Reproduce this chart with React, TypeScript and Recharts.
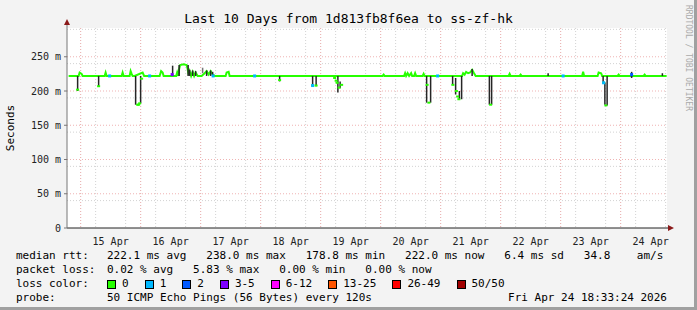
import React from 'react';
import { ComposedChart, Line, Scatter, XAxis, YAxis, CartesianGrid, ReferenceLine } from 'recharts';

// hours since Apr 14 00:00, median rtt in ms (baseline and short rises)
const medianPoints: [number, number][] = [
  [19.2, 222], [22.4, 222], [23.2, 222], [23.6, 227], [24.4, 225], [24.8, 222],
  [30.8, 222], [31.6, 222], [33.6, 222], [34.0, 227], [34.4, 222],
  [40.4, 222], [40.8, 227], [41.2, 222], [43.6, 222], [44.0, 229], [44.4, 225], [44.8, 222],
  [45.6, 222], [48.8, 227], [49.4, 222],
  [55.6, 222], [56.2, 229], [56.8, 227], [57.2, 222], [62.2, 222], [62.6, 227], [63.0, 222],
  [63.4, 232], [63.8, 238], [65.2, 239], [66.4, 238], [66.8, 232], [67.2, 224],
  [67.6, 229], [68.2, 222], [68.8, 228], [69.4, 222], [70.0, 227], [70.8, 222],
  [72.4, 222], [73.6, 226], [74.4, 229], [75.2, 224], [76.0, 229], [76.8, 224], [77.6, 222],
  [82.0, 222], [82.4, 227], [83.2, 228], [83.6, 222],
  [103.2, 222], [104.0, 222], [116.4, 222], [118.6, 222], [124.8, 222], [128.8, 222],
  [144.8, 222], [145.2, 224], [145.6, 222],
  [153.4, 222], [153.8, 226], [154.2, 222], [154.8, 226], [155.4, 222], [156.2, 226], [156.6, 222],
  [157.4, 222], [157.8, 226], [158.2, 222], [160.8, 222], [161.2, 225], [161.6, 222],
  [162.0, 222], [164.6, 222], [171.6, 222], [176.6, 222],
  [177.0, 226], [177.6, 224], [178.2, 228], [179.0, 226], [179.8, 227], [180.6, 231], [181.2, 227], [182.0, 222],
  [186.8, 222], [188.8, 222],
  [195.2, 222], [195.6, 225], [196.0, 222], [199.6, 222], [200.0, 224], [200.4, 222],
  [224.6, 222], [225.0, 228], [225.4, 222], [230.8, 222], [231.2, 227], [232.2, 226],
  [232.6, 222], [235.0, 222],
  [238.8, 222], [239.2, 224], [239.6, 222], [249.2, 222], [249.6, 224], [250.0, 222], [258.4, 222],
];

// median during the drops
const dipPoints: [number, number][] = [
  [22.8, 202], [31.2, 207], [46.8, 180], [47.2, 180], [47.6, 182], [48.4, 218],
  [103.6, 216], [116.8, 208], [118.2, 208],
  [125.6, 219], [126.2, 215], [126.6, 212], [127.4, 205], [128.4, 209],
  [162.6, 209], [163.3, 183],
  [172.9, 209], [174.3, 200], [174.8, 192], [175.3, 188],
  [188.0, 180], [233.2, 212], [234.1, 179],
];

// [hour, low, high] of the ping spread
const smokePoints: [number, number, number][] = [
  [22.8, 200, 222], [31.2, 206, 222], [46.0, 180, 222], [48.0, 182, 222],
  [60.8, 222, 237], [63.4, 222, 238], [67.0, 222, 238],
  [67.6, 222, 231], [68.8, 222, 230], [70.0, 222, 229], [72.8, 226, 234], [74.4, 222, 230],
  [76.0, 222, 230], [76.8, 222, 228], [103.6, 214, 222], [116.8, 207, 222], [118.2, 207, 222],
  [126.9, 198, 222], [127.8, 204, 214],
  [162.4, 183, 222], [164.0, 183, 222],
  [172.8, 209, 222], [174.0, 195, 219], [175.5, 187, 200], [176.4, 188, 222],
  [180.6, 222, 232], [187.5, 180, 222], [188.4, 180, 222], [211.0, 222, 226],
  [233.0, 212, 222], [233.7, 180, 212], [234.6, 179, 222], [244.4, 219, 228], [256.7, 222, 226],
];

// [hour, rtt, loss colour index]
const lossPoints: [number, number, number][] = [
  [35.6, 222, 1], [51.6, 222, 1], [60.6, 224, 3], [77.0, 222, 1], [93.6, 222, 1],
  [116.8, 208, 1], [166.8, 222, 1], [217.0, 222, 1], [233.2, 212, 1], [244.4, 224, 2],
];

const lossColors = ['#26ff00', '#00b8ff', '#0059ff', '#7e00ff', '#ff00ff', '#ff5500', '#ff0000', '#a10000'];
const lossLabels = ['0', '1', '2', '3-5', '6-12', '13-25', '26-49', '50/50'];

const dayLabels = ['15 Apr', '16 Apr', '17 Apr', '18 Apr', '19 Apr', '20 Apr', '21 Apr', '22 Apr', '23 Apr', '24 Apr'];
const dayNoons = [36, 60, 84, 108, 132, 156, 180, 204, 228, 252];
const midnights = [24, 48, 72, 96, 120, 144, 168, 192, 216, 240];
const sixHours = [24, 30, 36, 42, 48, 54, 60, 66, 72, 78, 84, 90, 96, 102, 108, 114, 120, 126, 132, 138, 144, 150, 156, 162, 168, 174, 180, 186, 192, 198, 204, 210, 216, 222, 228, 234, 240, 246, 252, 258];
const yTicks = [0, 50, 100, 150, 200, 250];
const yMinor = [10, 20, 30, 40, 60, 70, 80, 90, 110, 120, 130, 140, 160, 170, 180, 190, 210, 220, 230, 240, 260, 270, 280, 290];

const statLine = '222.1 ms avg   238.0 ms max   178.8 ms min   222.0 ms now   6.4 ms sd   34.8    am/s';
const lossLine = '0.02 % avg   5.83 % max   0.00 % min   0.00 % now';
const probeLine = '50 ICMP Echo Pings (56 Bytes) every 120s';
const stamp = 'Fri Apr 24 18:33:24 2026';

const mono = '"DejaVu Sans Mono", monospace';

const rows = medianPoints.map(([t, med]) => ({ t, med }));
const dipData = dipPoints.map(([t, v]) => ({ t, v }));
const lossData = lossPoints.map(([t, v, level]) => ({ t, v, level }));

const DipMark = (props: any) => <rect x={props.cx - 1.5} y={props.cy - 1} width={3} height={2} fill="#26ff00" />;
const LossMark = (props: any) => (
  <rect x={props.cx - 1.5} y={props.cy - 1.5} width={3} height={3} fill={lossColors[props.payload.level]} />
);

const legendRow = (top: number, label: string, content: React.ReactNode) => (
  <div style={{ position: 'absolute', left: 0, top, width: 690, height: 14, fontSize: 11, lineHeight: '14px', whiteSpace: 'pre' }}>
    <span style={{ position: 'absolute', left: 16 }}>{label}</span>
    <span style={{ position: 'absolute', left: 107 }}>{content}</span>
  </div>
);

export default function App() {
  return (
    <div style={{ position: 'absolute', left: 0, top: 0, width: 697, height: 310, background: '#f3f3f3', boxSizing: 'border-box', borderRight: '3px solid #a0a0a0', borderBottom: '3px solid #a0a0a0', overflow: 'hidden', fontFamily: mono, color: '#000' }}>
      <div style={{ position: 'absolute', left: 0, top: 11, width: 697, textAlign: 'center', fontSize: 13, lineHeight: '16px' }}>
        Last 10 Days from 1d813fb8f6ea to ss-zf-hk
      </div>
      <div style={{ position: 'absolute', left: 10, top: 128, transform: 'translate(-50%, -50%) rotate(-90deg)', fontSize: 11, whiteSpace: 'nowrap' }}>
        Seconds
      </div>
      <div style={{ position: 'absolute', left: 684, top: 5, writingMode: 'vertical-rl', fontSize: 8, color: '#aaa', whiteSpace: 'nowrap' }}>
        RRDTOOL / TOBI OETIKER
      </div>
      <div style={{ position: 'absolute', left: 0, top: 0 }}>
        <ComposedChart width={697} height={310} data={rows} margin={{ top: 28, right: 30, bottom: 62, left: 7 }}>
          <CartesianGrid fill="#ffffff" stroke="#d2d2d2" strokeDasharray="1 2" verticalValues={sixHours} horizontalValues={yMinor} />
          <CartesianGrid fill="none" stroke="#efb3b3" strokeDasharray="1 2" verticalValues={midnights} horizontalValues={yTicks.slice(1)} />
          <XAxis
            dataKey="t"
            type="number"
            domain={[18.55, 258.55]}
            allowDataOverflow
            ticks={dayNoons}
            tickFormatter={(v: number) => dayLabels[dayNoons.indexOf(v)]}
            tickLine={false}
            tickMargin={4}
            height={20}
            axisLine={{ stroke: '#222' }}
            tick={{ fontSize: 10, fontFamily: mono, fill: '#222' }}
          />
          <YAxis
            type="number"
            domain={[0, 292]}
            allowDataOverflow
            ticks={yTicks}
            tickFormatter={(v: number) => (v === 0 ? '0' : `${v} m`)}
            width={60}
            tickSize={3}
            tickMargin={3}
            axisLine={{ stroke: '#777' }}
            tickLine={{ stroke: '#777' }}
            tick={{ fontSize: 10, fontFamily: mono, fill: '#222' }}
          />
          <Line dataKey="med" type="linear" stroke="#26ff00" strokeWidth={2} dot={false} isAnimationActive={false} />
          {smokePoints.map(([t, lo, hi]) => (
            <ReferenceLine
              key={`s${t}`}
              segment={[{ x: t, y: lo }, { x: t, y: hi }]}
              stroke={lo > 222 ? '#777' : '#262626'}
              strokeWidth={1.5}
              ifOverflow="hidden"
            />
          ))}
          <Scatter data={dipData} dataKey="v" shape={<DipMark />} isAnimationActive={false} />
          <Scatter data={lossData} dataKey="v" shape={<LossMark />} isAnimationActive={false} />
        </ComposedChart>
      </div>
      <svg width={697} height={310} style={{ position: 'absolute', left: 0, top: 0, pointerEvents: 'none' }}>
        <line x1={67} y1={22} x2={67} y2={28} stroke="#777" />
        <polygon points="64,25 70,25 67,19" fill="#8b1a1a" />
        <line x1={667} y1={228} x2={669} y2={228} stroke="#222" />
        <polygon points="668,225 668,231 674,228" fill="#8b1a1a" />
      </svg>
      {legendRow(249, 'median rtt:', statLine)}
      {legendRow(263, 'packet loss:', lossLine)}
      {legendRow(277, 'loss color:', (
        <span style={{ display: 'flex', alignItems: 'center' }}>
          {lossLabels.map((l, i) => (
            <span key={l} style={{ display: 'flex', alignItems: 'center', marginRight: 16 }}>
              <span style={{ display: 'inline-block', width: 7, height: 7, border: '1px solid #000', background: lossColors[i], marginRight: 6 }} />
              <span>{l}</span>
            </span>
          ))}
        </span>
      ))}
      {legendRow(291, 'probe:', probeLine)}
      <div style={{ position: 'absolute', right: 27, top: 291, fontSize: 11, lineHeight: '14px', whiteSpace: 'pre' }}>
        {stamp}
      </div>
    </div>
  );
}
